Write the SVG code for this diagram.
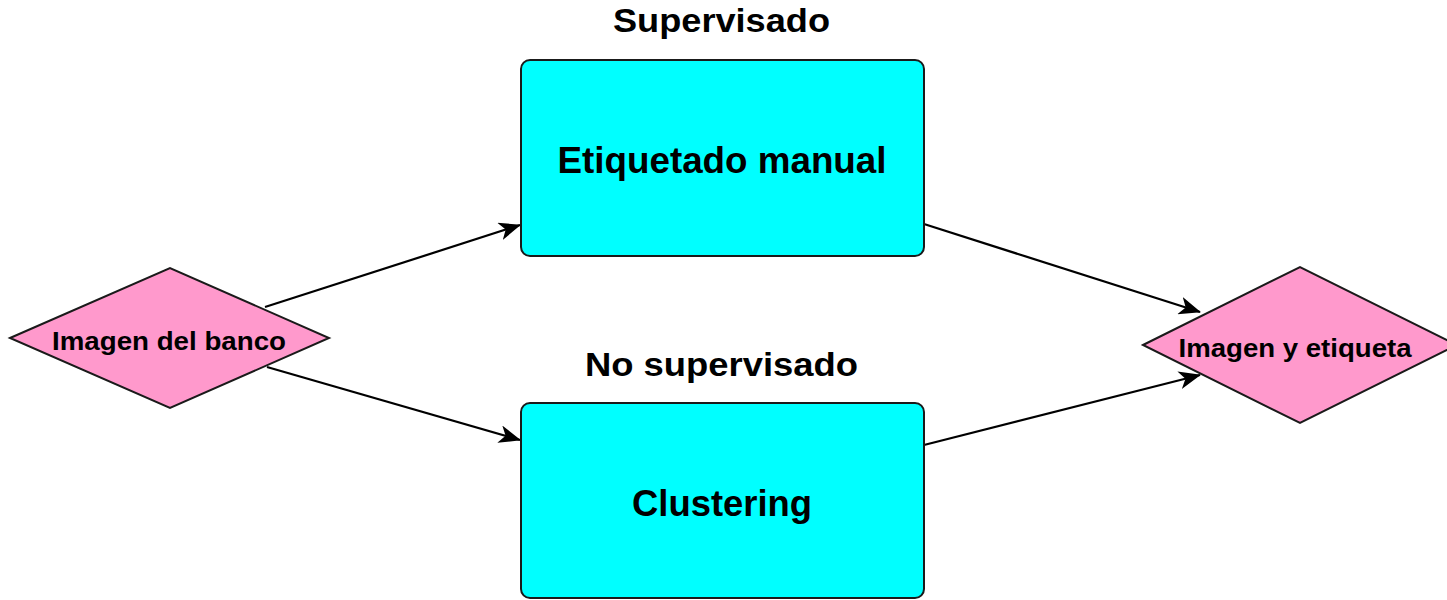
<svg xmlns="http://www.w3.org/2000/svg" width="1447" height="600" viewBox="0 0 1447 600">
<style>
.lbl{font-family:"Liberation Sans",Arial,sans-serif;font-weight:bold;fill:#000;text-anchor:middle}
.box{fill:#00FFFF;stroke:#1a1a1a;stroke-width:2}
.dia{fill:#FF99CC;stroke:#1a1a1a;stroke-width:2}
.edge{fill:none;stroke:#000;stroke-width:2.2}
</style>
<defs>
<marker id="arr" viewBox="0 0 22 18" refX="21" refY="9" markerWidth="22" markerHeight="18" markerUnits="userSpaceOnUse" orient="auto">
<path d="M0,0 L22,9 L0,18 L6,9 Z" fill="#000"/>
</marker>
</defs>
<rect width="1447" height="600" fill="#fff"/>
<g id="title-supervisado"><text class="lbl" x="721.5" y="32" font-size="33" textLength="217" lengthAdjust="spacingAndGlyphs">Supervisado</text></g>
<g id="title-nosupervisado"><text class="lbl" x="721.5" y="376" font-size="33" textLength="273" lengthAdjust="spacingAndGlyphs">No supervisado</text></g>
<g id="connectors">
<path class="edge" d="M265,307 L520,225" marker-end="url(#arr)"/>
<path class="edge" d="M267,367 L520,440" marker-end="url(#arr)"/>
<path class="edge" d="M924,224 L1200,312" marker-end="url(#arr)"/>
<path class="edge" d="M924,445 L1200,375" marker-end="url(#arr)"/>
</g>
<g id="node-imagen-banco">
<polygon class="dia" points="10,338 170,268 329,338 170,408"/>
<text class="lbl" x="169" y="350" font-size="26" textLength="234" lengthAdjust="spacingAndGlyphs">Imagen del banco</text>
</g>
<g id="node-etiquetado">
<rect class="box" x="521" y="60" width="403" height="196" rx="9"/>
<text class="lbl" x="722" y="173" font-size="36" textLength="329" lengthAdjust="spacingAndGlyphs">Etiquetado manual</text>
</g>
<g id="node-clustering">
<rect class="box" x="521" y="403" width="403" height="195" rx="9"/>
<text class="lbl" x="722" y="516" font-size="36" textLength="180" lengthAdjust="spacingAndGlyphs">Clustering</text>
</g>
<g id="node-imagen-etiqueta">
<polygon class="dia" points="1143,345 1300,267 1457,345 1300,423"/>
<text class="lbl" x="1295" y="357" font-size="25" textLength="233" lengthAdjust="spacingAndGlyphs">Imagen y etiqueta</text>
</g>
</svg>
